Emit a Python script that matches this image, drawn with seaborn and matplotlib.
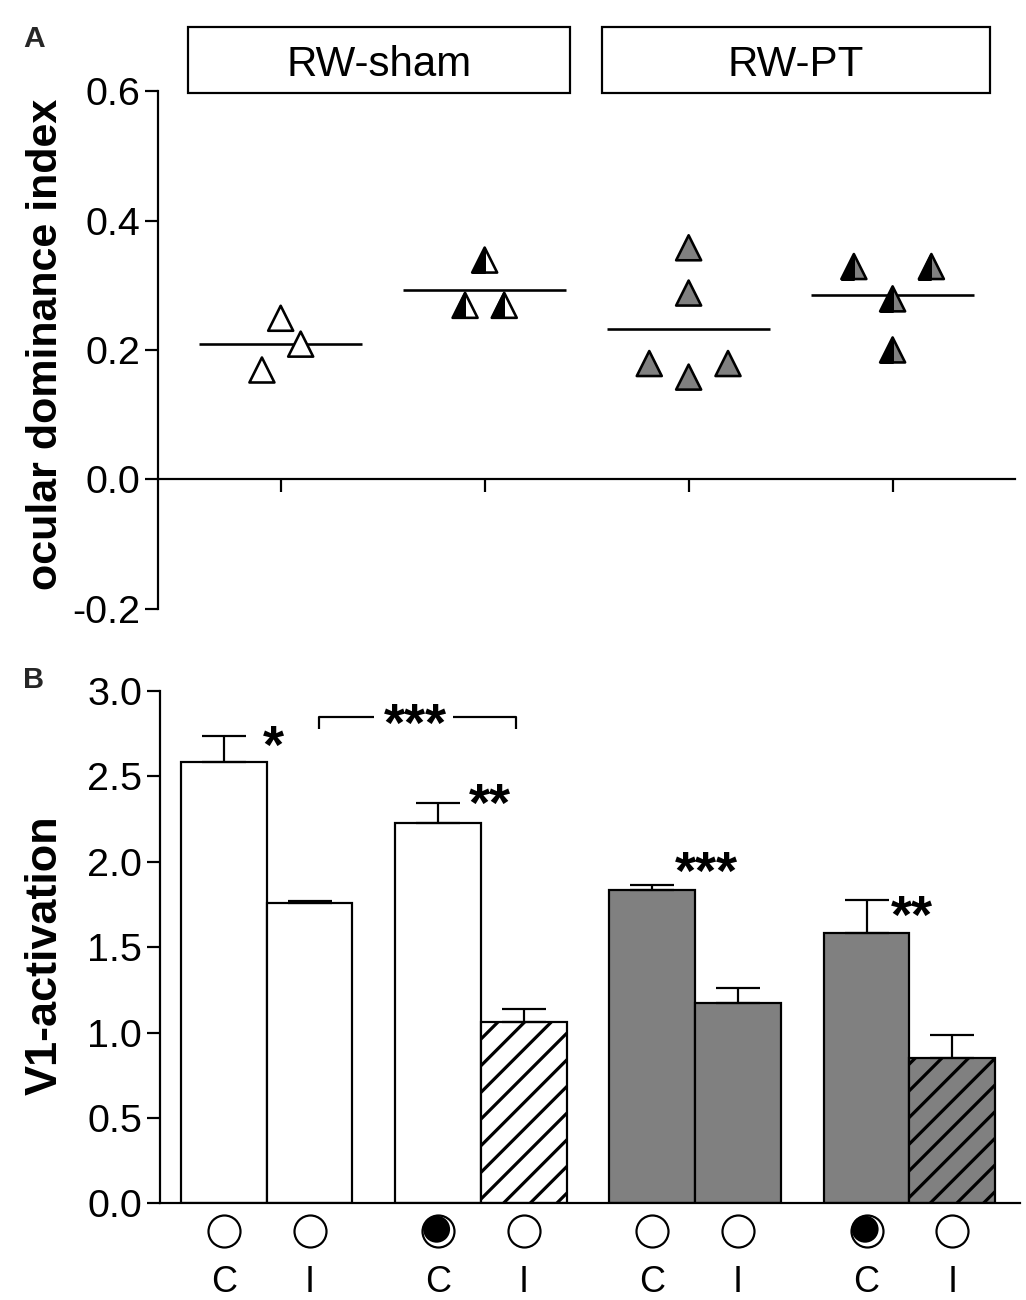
import numpy as np
import pandas as pd
import matplotlib
matplotlib.use("Agg")
import matplotlib.pyplot as plt
from matplotlib.markers import MarkerStyle
from matplotlib.patches import Rectangle
from matplotlib.transforms import offset_copy
import seaborn as sns

# ---------------- data ----------------
group_names = ["RW-sham", "RW-PT"]

# Panel A: ocular dominance index, one value per animal (4 columns)
odi_sham_noMD = [0.249, 0.209, 0.169]
odi_sham_MD = [0.339, 0.269, 0.269]
odi_pt_noMD = [0.358, 0.288, 0.179, 0.158, 0.179]
odi_pt_MD = [0.329, 0.329, 0.279, 0.200]
# horizontal scatter of the symbols inside each column
jit_sham_noMD = [0.0, 0.098, -0.092]
jit_sham_MD = [0.0, -0.096, 0.096]
jit_pt_noMD = [0.0, 0.0, -0.193, 0.0, 0.193]
jit_pt_MD = [-0.19, 0.19, 0.0, 0.0]
odi_ticks = [-0.2, 0.0, 0.2, 0.4, 0.6]

# Panel B: V1 activation (mean, SEM)
eye_labels = ["C", "I", "C", "I", "C", "I", "C", "I"]
v1_mean = [2.587, 1.761, 2.226, 1.062, 1.835, 1.172, 1.582, 0.849]
v1_sem = [0.152, 0.010, 0.117, 0.076, 0.028, 0.090, 0.193, 0.139]
v1_group = ["RW-sham"] * 4 + ["RW-PT"] * 4
v1_hatched = [False, False, False, True, False, False, False, True]
eye_deprived = [False, False, True, False, False, False, True, False]
v1_ticks = [0.0, 0.5, 1.0, 1.5, 2.0, 2.5, 3.0]
stars = ["*", "**", "***", "**"]
star_x = [0.573, 3.106, 5.627, 8.03]
star_y = [2.719, 2.380, 1.982, 1.724]

# ---------------- style ----------------
DPI = 160
W, H = 1026, 1300
PT = 72.0 / DPI          # points per output pixel


def fx(px):
    return px / W


def fy(py):
    return 1 - py / H


sns.set_theme(style="ticks")
plt.rcParams["font.family"] = ["Liberation Sans", "DejaVu Sans"]
plt.rcParams["axes.unicode_minus"] = False
plt.rcParams["hatch.linewidth"] = 3.2 * PT
plt.rcParams["hatch.color"] = "black"

LW = 2.2 * PT
GRAY = "#808080"
TICKFS = 39.5 * PT
STARFS = 54 * PT
STAR_K = 0.45

fig = plt.figure(figsize=(W / DPI, H / DPI), dpi=DPI)

# ================= Panel A =================
aL, aR, aT, aB = 158.3, 1015.0, 91.3, 608.6
axA = fig.add_axes([fx(aL), fy(aB), (aR - aL) / W, (aB - aT) / H])

colsA = [odi_sham_noMD, odi_sham_MD, odi_pt_noMD, odi_pt_MD]
jitA = [jit_sham_noMD, jit_sham_MD, jit_pt_noMD, jit_pt_MD]
faceA = ["white", "white", "gray", "gray"]
halfA = [False, True, False, True]
rows = []
for g, (vals, offs) in enumerate(zip(colsA, jitA)):
    for v, o in zip(vals, offs):
        rows.append(dict(x=g + o, odi=v, face=faceA[g], half=halfA[g]))
dfA = pd.DataFrame(rows)

tri_s = (25 * PT) ** 2
sns.scatterplot(data=dfA, x="x", y="odi", hue="face",
                palette={"white": "white", "gray": GRAY},
                marker="^", s=tri_s, edgecolor="black", linewidth=2.6 * PT,
                legend=False, ax=axA, zorder=3)
sns.scatterplot(data=dfA[dfA["half"]], x="x", y="odi", color="black",
                marker=MarkerStyle("^", fillstyle="left"), s=tri_s,
                edgecolor="black", linewidth=2.0 * PT,
                legend=False, ax=axA, zorder=4)

means = [np.mean(v) for v in colsA]
gx = np.arange(len(colsA))
axA.hlines(means, gx - 0.4, gx + 0.4, colors="black", lw=2.6 * PT, zorder=2)

axA.set_xlim(-0.6, 3.6)
axA.set_ylim(-0.2, 0.6)
axA.set_xticks(gx)
axA.set_xticklabels([])
axA.set_yticks(odi_ticks)
axA.set_yticklabels([f"{t:.1f}" for t in odi_ticks])
axA.set_xlabel("")
for s in ["top", "right"]:
    axA.spines[s].set_visible(False)
axA.spines["bottom"].set_position(("data", 0))
for s in ["left", "bottom"]:
    axA.spines[s].set_linewidth(LW)
    axA.spines[s].set_color("black")
axA.tick_params(axis="both", direction="out", length=13 * PT, width=LW,
                color="black", labelsize=TICKFS, pad=5 * PT, labelcolor="black")
axA.set_ylabel("ocular dominance index", fontsize=43 * PT, fontweight="bold",
               color="black")
axA.yaxis.label.set_verticalalignment("baseline")
axA.yaxis.set_label_coords((57 - aL) / (aR - aL), (aB - 344) / (aB - aT))

# group header boxes
for name, (x0, x1) in zip(group_names, [(187.7, 569.7), (601.7, 990.0)]):
    fig.patches.append(Rectangle((fx(x0), fy(92.7)), (x1 - x0) / W, (92.7 - 27.3) / H,
                                 transform=fig.transFigure, facecolor="white",
                                 edgecolor="black", lw=LW))
    fig.text(fx((x0 + x1) / 2), fy(75.5), name, ha="center", va="baseline",
             fontsize=42 * PT, color="black")

fig.text(fx(23), fy(47), "A", ha="left", va="baseline", fontsize=30 * PT,
         fontweight="bold")

# ================= Panel B =================
bL, bR, bT, bB = 160.0, 1020.0, 691.0, 1203.3
axB = fig.add_axes([fx(bL), fy(bB), (bR - bL) / W, (bB - bT) / H])

pos = [2.5 * g + k for g in range(4) for k in range(2)]
dfB = pd.DataFrame({"pos": pos, "v1": v1_mean, "group": v1_group})
sns.barplot(data=dfB, x="pos", y="v1", hue="group",
            palette={"RW-sham": "white", "RW-PT": GRAY}, saturation=1,
            native_scale=True, width=1.0, errorbar=None, edgecolor="black",
            linewidth=LW, legend=False, ax=axB, zorder=2)
for p in axB.patches:
    cx = p.get_x() + p.get_width() / 2
    i = int(np.argmin(np.abs(np.array(pos) - cx)))
    if v1_hatched[i]:
        p.set_hatch("//")

axB.errorbar(pos, v1_mean, yerr=[np.zeros(len(v1_sem)), v1_sem], fmt="none",
             ecolor="black", elinewidth=LW, capsize=22 * PT, capthick=LW,
             zorder=3)

# significance marks
for s, x, y in zip(stars, star_x, star_y):
    axB.annotate(s, xy=(x, y), xytext=(0, -STAR_K * STARFS),
                 textcoords="offset points", ha="center", va="baseline",
                 fontsize=STARFS, fontweight="bold", color="black")
br_y, br_low = 2.847, 2.777
axB.plot([1.114, 1.114, 1.754], [br_low, br_y, br_y], color="black", lw=LW,
         solid_capstyle="butt")
axB.plot([2.674, 3.41, 3.41], [br_y, br_y, br_low], color="black", lw=LW,
         solid_capstyle="butt")
axB.annotate("***", xy=(2.238, br_y), xytext=(0, -STAR_K * STARFS),
             textcoords="offset points", ha="center", va="baseline",
             fontsize=STARFS, fontweight="bold", color="black")

# eye symbols below the bars
eye_y = -0.0535
trans = axB.get_xaxis_transform()
axB.scatter(pos, [eye_y] * len(pos), transform=trans, s=(32 * PT) ** 2,
            facecolor="white", edgecolor="black", linewidths=2.2 * PT,
            clip_on=False, zorder=5)
dep_x = [p for p, d in zip(pos, eye_deprived) if d]
axB.scatter(dep_x, [eye_y] * len(dep_x),
            transform=offset_copy(trans, fig=fig, x=-1.5, y=1.5, units="dots"),
            s=(27 * PT) ** 2, facecolor="black", edgecolor="none",
            clip_on=False, zorder=6)

axB.set_xlim(-0.745, 9.29)
axB.set_ylim(0, 3.0)
axB.set_xticks(pos)
axB.set_xticklabels(eye_labels)
axB.set_yticks(v1_ticks)
axB.set_yticklabels([f"{t:.1f}" for t in v1_ticks])
axB.set_xlabel("")
for s in ["top", "right"]:
    axB.spines[s].set_visible(False)
for s in ["left", "bottom"]:
    axB.spines[s].set_linewidth(LW)
    axB.spines[s].set_color("black")
axB.tick_params(axis="y", direction="out", length=13 * PT, width=LW,
                color="black", labelsize=TICKFS, pad=5 * PT, labelcolor="black")
axB.tick_params(axis="x", length=0, pad=62 * PT, labelsize=36 * PT,
                labelcolor="black")
axB.set_ylabel("V1-activation", fontsize=45 * PT, fontweight="bold",
               color="black")
axB.yaxis.label.set_verticalalignment("baseline")
axB.yaxis.set_label_coords((57 - bL) / (bR - bL), (bB - 955) / (bB - bT))

fig.text(fx(23), fy(688), "B", ha="left", va="baseline", fontsize=29 * PT,
         fontweight="bold")

fig.savefig("out.png", dpi=DPI, facecolor="white")
